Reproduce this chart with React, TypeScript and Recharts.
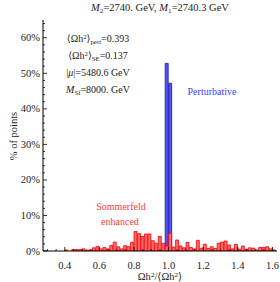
import { BarChart, Bar, XAxis, YAxis } from "recharts";

// histogram bins (left edge), width 0.02
const binStarts = [
  0.28, 0.3, 0.32, 0.34, 0.36, 0.38, 0.4, 0.42, 0.44, 0.46, 0.48, 0.5, 0.52, 0.54,
  0.56, 0.58, 0.6, 0.62, 0.64, 0.66, 0.68, 0.7, 0.72, 0.74, 0.76, 0.78, 0.8, 0.82,
  0.84, 0.86, 0.88, 0.9, 0.92, 0.94, 0.96, 0.98, 1.0, 1.02, 1.04, 1.06, 1.08, 1.1,
  1.12, 1.14, 1.16, 1.18, 1.2, 1.22, 1.24, 1.26, 1.28, 1.3, 1.32, 1.34, 1.36, 1.38,
  1.4, 1.42, 1.44, 1.46, 1.48, 1.5, 1.52, 1.54, 1.56, 1.58, 1.6,
];

const sommerfeldPct = [
  0, 0, 0, 0, 0, 0, 0.3, 0, 0.4, 0.4, 0.4, 0.6, 0.3, 0.3,
  0.9, 1.3, 0.6, 1.0, 0.6, 1.6, 2.5, 1.2, 0.6, 1.5, 1.2, 2.5, 5.5, 4.9,
  4.1, 4.8, 4.8, 2.9, 2.2, 4.1, 2.2, 1.4, 5.0, 1.1, 3.1, 1.4, 0.9, 2.4,
  1.0, 0.6, 3.0, 0.8, 1.9, 0.7, 1.2, 0.7, 2.2, 2.5, 2.8, 1.7, 0.6, 1.9,
  0.5, 1.4, 0.5, 0.9, 0.8, 0.3, 1.0, 1.0, 1.2, 0.6, 0.3,
];

const perturbativeBins = [0.98, 1.0];
const perturbativePct = [52.8, 47.2];

const xTicks = [
  0.3, 0.35, 0.4, 0.45, 0.5, 0.55, 0.6, 0.65, 0.7, 0.75, 0.8, 0.85, 0.9, 0.95, 1.0,
  1.05, 1.1, 1.15, 1.2, 1.25, 1.3, 1.35, 1.4, 1.45, 1.5, 1.55, 1.6,
];
const xMajor = [0.4, 0.6, 0.8, 1.0, 1.2, 1.4, 1.6];
const yTicks = [
  0, 2, 4, 6, 8, 10, 12, 14, 16, 18, 20, 22, 24, 26, 28, 30, 32, 34, 36, 38, 40, 42,
  44, 46, 48, 50, 52, 54, 56, 58, 60, 62, 64,
];
const yMajor = [0, 10, 20, 30, 40, 50, 60];

const data = binStarts.map((b, i) => {
  const k = perturbativeBins.indexOf(b);
  return { bin: b, red: sommerfeldPct[i], blue: k >= 0 ? perturbativePct[k] : 0 };
});

const serif = "'Liberation Serif', 'DejaVu Serif', serif";
const isMajorX = (v: number) => xMajor.some((m) => Math.abs(m - v) < 1e-6);
const isMajorY = (v: number) => yMajor.includes(v);

const BottomTick = (p: any) => {
  const v = p.payload.value;
  const major = isMajorX(v);
  return (
    <g>
      <line x1={p.x} x2={p.x} y1={p.y} y2={p.y - (major ? 4 : 2)} stroke="#000" strokeWidth={0.8} />
      {major && (
        <text x={p.x} y={p.y + 17.5} textAnchor="middle" fontFamily={serif} fontSize={10.5} fill="#222">
          {v.toFixed(1)}
        </text>
      )}
    </g>
  );
};

const TopTick = (p: any) => {
  const major = isMajorX(p.payload.value);
  return <line x1={p.x} x2={p.x} y1={p.y} y2={p.y + (major ? 4 : 2)} stroke="#000" strokeWidth={0.8} />;
};

const LeftTick = (p: any) => {
  const v = p.payload.value;
  const major = isMajorY(v);
  return (
    <g>
      <line x1={p.x} x2={p.x + (major ? 4 : 2)} y1={p.y} y2={p.y} stroke="#000" strokeWidth={0.8} />
      {major && (
        <text x={p.x - 3} y={p.y + 3.5} textAnchor="end" fontFamily={serif} fontSize={10.5} fill="#222">
          {v}%
        </text>
      )}
    </g>
  );
};

const RightTick = (p: any) => {
  const major = isMajorY(p.payload.value);
  return <line x1={p.x} x2={p.x - (major ? 4 : 2)} y1={p.y} y2={p.y} stroke="#000" strokeWidth={0.8} />;
};

const sub = { fontSize: "0.68em", verticalAlign: "-0.3em", lineHeight: 0 };
const sup = { fontSize: "0.68em", verticalAlign: "0.45em", lineHeight: 0 };

const txt = (top: number, left: number, width: number, extra = {}) => ({
  position: "absolute" as const,
  top,
  left,
  width,
  textAlign: "center" as const,
  fontFamily: serif,
  fontSize: 10,
  lineHeight: "12px",
  color: "#222",
  whiteSpace: "nowrap" as const,
  ...extra,
});

export default function App() {
  return (
    <div style={{ position: "absolute", left: 0, top: 0, width: 280, height: 282, background: "#fff" }}>
      <BarChart
        width={280}
        height={282}
        data={data}
        margin={{ top: 20, right: 3, bottom: 0, left: 0 }}
        barCategoryGap={0}
        barGap={0}
      >
        <XAxis xAxisId="catBlue" dataKey="bin" type="category" hide padding={{ left: 1, right: 1 }} />
        <XAxis xAxisId="catRed" dataKey="bin" type="category" hide padding={{ left: 1, right: 1 }} />
        <XAxis
          xAxisId="bottom"
          dataKey="bin"
          type="number"
          scale="linear"
          domain={[0.28, 1.62]}
          allowDataOverflow
          ticks={xTicks}
          interval={0}
          padding={{ left: 1, right: 1 }}
          height={31}
          tickSize={0}
          tickMargin={0}
          tickLine={false}
          tick={BottomTick}
          axisLine={{ stroke: "#000", strokeWidth: 1 }}
        />
        <XAxis
          xAxisId="top"
          dataKey="bin"
          orientation="top"
          type="number"
          scale="linear"
          domain={[0.28, 1.62]}
          allowDataOverflow
          ticks={xTicks}
          interval={0}
          padding={{ left: 1, right: 1 }}
          height={0}
          tickSize={0}
          tickMargin={0}
          tickLine={false}
          tick={TopTick}
          axisLine={{ stroke: "#000", strokeWidth: 1 }}
        />
        <YAxis
          yAxisId="left"
          type="number"
          domain={[0, 65]}
          allowDataOverflow
          ticks={yTicks}
          interval={0}
          width={43}
          tickSize={0}
          tickMargin={0}
          tickLine={false}
          tick={LeftTick}
          axisLine={{ stroke: "#000", strokeWidth: 1 }}
        />
        <YAxis
          yAxisId="right"
          orientation="right"
          type="number"
          domain={[0, 65]}
          allowDataOverflow
          ticks={yTicks}
          interval={0}
          width={0}
          tickSize={0}
          tickMargin={0}
          tickLine={false}
          tick={RightTick}
          axisLine={{ stroke: "#000", strokeWidth: 1 }}
        />
        <Bar
          xAxisId="catBlue"
          yAxisId="left"
          dataKey="blue"
          fill="#5656ee"
          stroke="#1414b4"
          strokeWidth={0.8}
          isAnimationActive={false}
        />
        <Bar
          xAxisId="catRed"
          yAxisId="left"
          dataKey="red"
          fill="#ff6a6a"
          stroke="#ff0000"
          strokeWidth={0.8}
          isAnimationActive={false}
        />
      </BarChart>

      <div style={txt(2, 60, 200, { fontSize: 10.5 })}>
        <i>M</i>
        <span style={sub}>2</span>=2740. GeV, <i>M</i>
        <span style={sub}>1</span>=2740.3 GeV
      </div>

      <div style={txt(33, 48, 100)}>
        ⟨Ωh<span style={sup}>2</span>⟩<span style={sub}>pert</span>=0.393
      </div>
      <div style={txt(50, 48, 100)}>
        ⟨Ωh<span style={sup}>2</span>⟩<span style={sub}>SE</span>=0.137
      </div>
      <div style={txt(67, 48, 100)}>
        |<i>μ</i>|=5480.6 GeV
      </div>
      <div style={txt(84, 48, 100)}>
        <i>M</i>
        <span style={sub}>Sf</span>=8000. GeV
      </div>

      <div style={txt(86, 172, 80, { color: "#3a3aff" })}>Perturbative</div>
      <div style={txt(201, 81, 80, { color: "#ff3b3b" })}>Sommerfeld</div>
      <div style={txt(216, 80, 80, { color: "#ff3b3b" })}>enhanced</div>

      <div
        style={txt(130, -36, 100, {
          fontSize: 10.5,
          transform: "rotate(-90deg)",
        })}
      >
        % of points
      </div>

      <div style={txt(271, 110, 100, { fontSize: 10.5 })}>
        Ωh<span style={sup}>2</span>/⟨Ωh<span style={sup}>2</span>⟩
      </div>
    </div>
  );
}
